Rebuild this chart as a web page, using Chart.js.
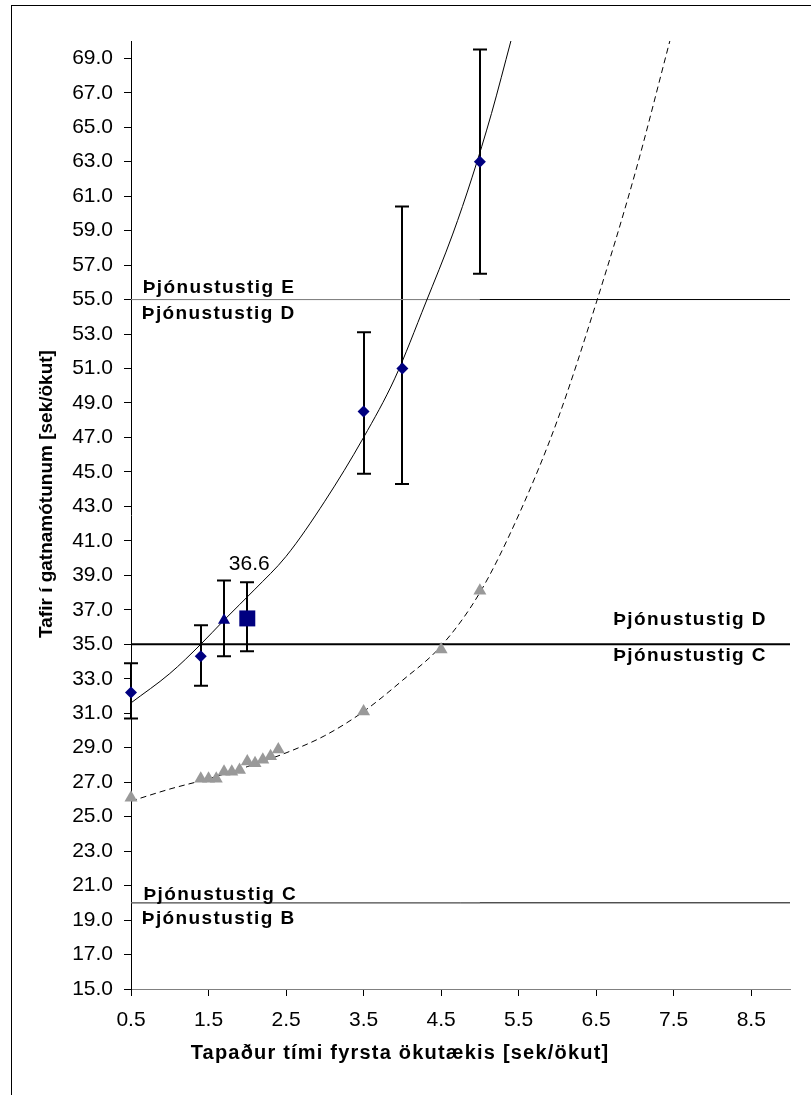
<!DOCTYPE html>
<html>
<head>
<meta charset="utf-8">
<script src="https://cdn.jsdelivr.net/npm/chart.js@4.4.0/dist/chart.umd.min.js"></script>
<style>
  html, body { margin: 0; padding: 0; background: #fff; }
</style>
</head>
<body>
<canvas id="chart" width="811" height="1095"></canvas>
<script>
// Mældar tafir (bláir tíglar) með skekkjumörkum
const measX = [0.5, 1.4, 3.5, 4.0, 5.0];
const measY = [32.2, 34.3, 48.5, 51.0, 63.0];
const measLow = [30.7, 32.6, 44.9, 44.3, 56.5];
const measHigh = [33.9, 36.1, 53.1, 60.4, 69.5];

// Stakur þríhyrningur og ferningur
const triX = [1.7];
const triY = [36.4];
const triLow = [34.3];
const triHigh = [38.7];

const sqX = [2.0];
const sqY = [36.5];
const sqLow = [34.6];
const sqHigh = [38.6];
const sqLabel = ['36.6'];

// Gráir þríhyrningar (reiknað)
const greyX = [0.5, 1.4, 1.5, 1.6, 1.7, 1.8, 1.9, 2.0, 2.1, 2.2, 2.3, 2.4, 3.5, 4.5, 5.0];
const greyY = [26.1, 27.2, 27.2, 27.2, 27.6, 27.6, 27.7, 28.2, 28.1, 28.3, 28.5, 28.9, 31.1, 34.7, 38.1];

// Leitnilínur, lesnar af myndinni
const trendX = [0.5, 1.0, 1.4, 1.7, 2.1, 2.5, 3.0, 3.5, 3.9, 4.3, 4.65, 4.9, 5.15, 5.4];
const trendY = [31.6, 33.3, 35.0, 36.4, 38.2, 40.1, 43.3, 47.0, 50.4, 54.8, 58.8, 62.1, 65.8, 70.0];
const dashX = [0.5, 1.0, 1.5, 2.0, 2.5, 3.0, 3.5, 4.0, 4.5, 5.0, 5.5, 6.0, 6.5, 7.0, 7.45];
const dashY = [25.9, 26.6, 27.2, 27.9, 28.7, 29.7, 31.1, 32.9, 34.9, 38.0, 42.5, 48.0, 54.8, 62.3, 70.0];

// Þjónustustig
const levelValues = [55, 35, 20];
const levelWidths = [1, 2, 1];
const levelText = ['Þjónustustig E', 'Þjónustustig D', 'Þjónustustig D', 'Þjónustustig C', 'Þjónustustig C', 'Þjónustustig B'];
const levelTextX = [0.65, 0.64, 6.72, 6.72, 0.66, 0.64];
const levelTextY = [55.7, 54.2, 36.4, 34.35, 20.45, 19.1];

const xTicks = [0.5, 1.5, 2.5, 3.5, 4.5, 5.5, 6.5, 7.5, 8.5];
const yTicks = [15, 17, 19, 21, 23, 25, 27, 29, 31, 33, 35, 37, 39, 41, 43, 45, 47, 49, 51, 53, 55, 57, 59, 61, 63, 65, 67, 69];

const xTitle = 'Tapaður tími fyrsta ökutækis [sek/ökut]';
const yTitle = 'Tafir í gatnamótunum [sek/ökut]';

const FONT = "Arial, 'Liberation Sans', sans-serif";
const pts = (xs, ys) => xs.map((x, i) => ({ x: x, y: ys[i] }));

const errorGroups = [
    { x: measX, low: measLow, high: measHigh },
    { x: triX, low: triLow, high: triHigh },
    { x: sqX, low: sqLow, high: sqHigh }
];

const levelDatasets = levelValues.map((v, i) => ({
    type: 'line',
    data: [{ x: 0.5, y: v }, { x: 9.0, y: v }],
    borderColor: '#000',
    borderWidth: levelWidths[i],
    pointRadius: 0,
    order: 5
}));

const overlayPlugin = {
    id: 'overlay',
    beforeDraw(chart) {
        const ctx = chart.ctx;
        ctx.save();
        ctx.strokeStyle = '#000';
        ctx.lineWidth = 1;
        ctx.strokeRect(11.5, 5.5, 900, 1200);
        ctx.restore();
    },
    beforeDatasetsDraw(chart) {
        const ctx = chart.ctx;
        const xs = chart.scales.x, ys = chart.scales.y;
        ctx.save();
        ctx.strokeStyle = '#000';
        ctx.lineWidth = 2;
        errorGroups.forEach(g => {
            g.x.forEach((x, i) => {
                const px = Math.round(xs.getPixelForValue(x));
                const top = ys.getPixelForValue(g.high[i]);
                const bot = ys.getPixelForValue(g.low[i]);
                ctx.beginPath();
                ctx.moveTo(px, top);
                ctx.lineTo(px, bot);
                ctx.moveTo(px - 7, top);
                ctx.lineTo(px + 7, top);
                ctx.moveTo(px - 7, bot);
                ctx.lineTo(px + 7, bot);
                ctx.stroke();
            });
        });
        ctx.restore();
    },
    afterDatasetsDraw(chart) {
        const ctx = chart.ctx;
        const xs = chart.scales.x, ys = chart.scales.y;
        ctx.save();
        ctx.fillStyle = '#000';

        // þjónustustig
        ctx.font = 'bold 19px ' + FONT;
        ctx.letterSpacing = '1.4px';
        ctx.textAlign = 'left';
        ctx.textBaseline = 'middle';
        levelText.forEach((t, i) => {
            ctx.fillText(t, xs.getPixelForValue(levelTextX[i]), ys.getPixelForValue(levelTextY[i]));
        });
        ctx.letterSpacing = '0px';

        // gildi við ferning
        ctx.font = '21px ' + FONT;
        ctx.textAlign = 'center';
        ctx.textBaseline = 'alphabetic';
        sqX.forEach((x, i) => {
            ctx.fillText(sqLabel[i], xs.getPixelForValue(x) + 2, ys.getPixelForValue(sqY[i]) - 48);
        });

        // ásatitlar
        ctx.font = 'bold 20px ' + FONT;
        ctx.letterSpacing = '1.2px';
        ctx.textBaseline = 'middle';
        ctx.fillText(xTitle, 400, 1053);
        ctx.letterSpacing = '0px';
        ctx.font = 'bold 19px ' + FONT;
        ctx.translate(47, 494);
        ctx.rotate(-Math.PI / 2);
        ctx.fillText(yTitle, 0, 0);
        ctx.restore();
    }
};

new Chart(document.getElementById('chart'), {
    type: 'scatter',
    data: {
        datasets: [
            {
                data: pts(sqX, sqY),
                pointStyle: 'rect',
                pointRadius: 11.3,
                pointBackgroundColor: '#000080',
                pointBorderWidth: 0,
                clip: false,
                order: 0
            },
            {
                data: pts(triX, triY),
                pointStyle: 'triangle',
                pointRadius: 7,
                pointBackgroundColor: '#000080',
                pointBorderWidth: 0,
                clip: false,
                order: 0
            },
            {
                data: pts(measX, measY),
                pointStyle: 'rectRot',
                pointRadius: 6,
                pointBackgroundColor: '#000080',
                pointBorderWidth: 0,
                clip: false,
                order: 1
            },
            {
                data: pts(greyX, greyY),
                pointStyle: 'triangle',
                pointRadius: 7.5,
                pointBackgroundColor: '#999999',
                pointBorderWidth: 0,
                clip: false,
                order: 1
            },
            {
                type: 'line',
                data: pts(trendX, trendY),
                borderColor: '#000',
                borderWidth: 1,
                pointRadius: 0,
                cubicInterpolationMode: 'monotone',
                order: 3
            },
            {
                type: 'line',
                data: pts(dashX, dashY),
                borderColor: '#000',
                borderWidth: 1,
                borderDash: [6, 4],
                pointRadius: 0,
                cubicInterpolationMode: 'monotone',
                order: 3
            },
            {
                type: 'line',
                data: [{ x: 0.5, y: 55 }, { x: 5.0, y: 55 }],
                borderColor: '#888',
                borderWidth: 1,
                pointRadius: 0,
                order: 4
            },
            {
                type: 'line',
                data: [{ x: 0.5, y: 20 }, { x: 5.0, y: 20 }],
                borderColor: '#888',
                borderWidth: 1,
                pointRadius: 0,
                order: 4
            },
            ...levelDatasets
        ]
    },
    options: {
        responsive: false,
        animation: false,
        layout: { padding: { left: 0, top: 41, right: 21, bottom: 0 } },
        plugins: {
            legend: { display: false },
            tooltip: { enabled: false }
        },
        scales: {
            x: {
                type: 'linear',
                min: 0.5,
                max: 9.0,
                afterBuildTicks: s => { s.ticks = xTicks.map(v => ({ value: v })); },
                afterFit: s => { s.height = 106; },
                ticks: {
                    color: '#000',
                    font: { family: FONT, size: 21 },
                    padding: 12,
                    maxRotation: 0,
                    callback: v => Number(v).toFixed(1)
                },
                grid: { drawOnChartArea: false, drawTicks: true, tickLength: 7, color: '#000' },
                border: { color: '#808080', width: 1 }
            },
            y: {
                type: 'linear',
                min: 15,
                max: 70,
                afterBuildTicks: s => { s.ticks = yTicks.map(v => ({ value: v })); },
                afterFit: s => { s.width = 131; },
                ticks: {
                    color: '#000',
                    font: { family: FONT, size: 21 },
                    padding: 11,
                    callback: v => Number(v).toFixed(1)
                },
                grid: { drawOnChartArea: false, drawTicks: true, tickLength: 7, color: '#000' },
                border: { color: '#000', width: 1 }
            }
        }
    },
    plugins: [overlayPlugin]
});
</script>
</body>
</html>
